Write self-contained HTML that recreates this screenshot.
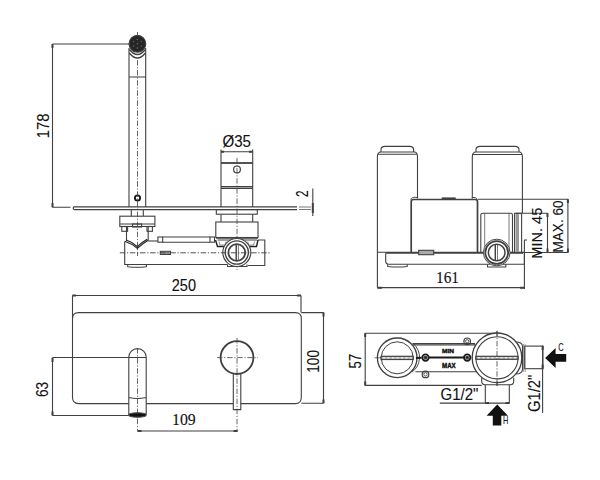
<!DOCTYPE html>
<html><head><meta charset="utf-8">
<style>
html,body{margin:0;padding:0;background:#fff;width:600px;height:480px;overflow:hidden}
svg{display:block}
text{font-family:"Liberation Sans",sans-serif;fill:#111;stroke:#111;stroke-width:0.12px}
.s{font-family:"Liberation Serif",serif}
</style></head><body>
<svg width="600" height="480" viewBox="0 0 600 480">
<g fill="none" stroke="#404040" stroke-width="1.1">
<!-- ===== TOP LEFT SIDE VIEW ===== -->
<!-- dim 178 -->
<path d="M52.5 44H129 M52.5 44V207.3 M52.5 207.3H70.5"/>
<path d="M52.5 44V48 M52.5 203V207.3" stroke-width="2"/>
<!-- spout -->
<path d="M129 48V207 M145.7 48V207 M129 77H145.7"/>
<circle cx="137.4" cy="43.8" r="8.4" fill="#262626"/>
<g fill="#666" stroke="none"><circle cx="137.4" cy="39.5" r="0.8"/><circle cx="137.4" cy="43.8" r="0.8"/><circle cx="137.4" cy="48" r="0.8"/><circle cx="133.5" cy="41.5" r="0.7"/><circle cx="141.3" cy="41.5" r="0.7"/><circle cx="133.5" cy="46" r="0.7"/><circle cx="141.3" cy="46" r="0.7"/></g>
<path d="M129.3 49.5Q137.5 59.5 145.4 49.5 M129.3 53Q137.5 63 145.4 53" stroke-width="1.3"/>
<circle cx="137.5" cy="198" r="2.6" stroke="#1a1a1a" stroke-width="1.9"/>
<path d="M137.5 32V36 M137.5 60V256" stroke-dasharray="5.5 1.7 1.2 1.7" stroke-width="0.8"/>
<!-- plate -->
<path d="M74 206.8H297 M74 209.6H297 M74 206.8Q72.5 208.2 74 209.6" stroke-width="1.2"/>
<path d="M299 207H311 M299 209.5H311" stroke-width="0.7"/>
<path d="M312.8 188.5V216"/>
<path d="M312.8 203V213" stroke-width="2"/>
<!-- handle -->
<path d="M221 151.7H224 M249 151.7H252.7" stroke-width="2"/>
<path d="M252.7 151.7H221 M221 149.5V207 M252.7 149.5V207 M221 186.6H252.7 M221 188.4H252.7"/>
<path d="M221 163H252.7" stroke-width="1.8"/>
<circle cx="237" cy="169.4" r="3.4" stroke-width="1.2"/>
<path d="M237 158V270" stroke-dasharray="5.5 1.7 1.2 1.7" stroke-width="0.8"/>
<!-- ring under plate -->
<rect x="216.3" y="209.6" width="41" height="4.6"/>
<path d="M221 214.2V222 M252.7 214.2V222"/>
<rect x="215.8" y="222" width="42.2" height="15.5"/>
<path d="M216 238H258" stroke-width="1.6"/>
<path d="M217.5 240H257" stroke-width="1"/>
<!-- spout neck + flange -->
<path d="M131.3 209.6V216.2 M143.3 209.6V216.2"/>
<rect x="119.8" y="216.2" width="35.1" height="10.3"/>
<path d="M119.8 224H154.9"/>
<rect x="121.8" y="226.5" width="5.8" height="4.8"/>
<rect x="147" y="226.5" width="5.4" height="4.8"/>
<rect x="132.5" y="224" width="9.1" height="3"/>
<path d="M126.5 226.5V241 M148.2 226.5V240.4"/>
<path d="M124.7 241.2Q132 243.5 137.3 248.4Q142.5 243.5 148.2 240.2 M126.2 240Q132.5 242 137.3 246.6Q142 242 147.2 239.2" stroke="#222" stroke-width="1.2"/>
<path d="M124.7 241.6V264.5H227.5 M127.7 264.5V266.7Q137 267.8 146.4 266.7V264.5"/>
<!-- pipe -->
<path d="M148.2 241H157.9"/>
<rect x="157.9" y="237" width="4.8" height="5.2"/>
<path d="M162.7 237H210 M162.7 242.2H210"/>
<rect x="210" y="237" width="4.5" height="5.2"/>
<rect x="160.3" y="251.3" width="10.2" height="3.2" fill="#999" stroke-width="1"/>
<!-- right body / circle -->
<path d="M258 240H264.8V265.5H248"/>
<path d="M227.5 264.5V266.5H247V264.5"/>
<path d="M215.5 240L217.5 246.5H226.5L229 242 M258 240L256.5 246.5H247.5L245 242" stroke="#222" stroke-width="1.4"/>
<path d="M219 241.5L220 245H225L226 241.5 M254.5 241.5L253.5 245H248.5L247.8 241.5" stroke-width="0.8" stroke="#777"/>
<circle cx="236.8" cy="252.5" r="14" stroke-width="1.1" fill="#fff"/>
<circle cx="236.8" cy="252.5" r="11.6" stroke-width="1.4"/>
<circle cx="236.8" cy="252.5" r="8.4" stroke-width="1.8"/>
<path d="M236.2 244.5V260.5" stroke-width="1.4"/>
<path d="M238.4 244.5V260.5" stroke-width="0.7"/>
<path d="M119.8 252.8H271" stroke-dasharray="5.5 1.7 1.2 1.7" stroke-width="0.9"/>

<!-- ===== TOP RIGHT VIEW ===== -->
<path d="M377.4 287.5V157 Q377.4 152 381 152H414.3Q417.5 152 417.5 157V198.5 M377.4 154.3H417.5"/>
<path d="M381 152V149.5Q381 146.4 385 146.4H409.6Q413.6 146.4 413.6 149.5V152"/>
<path d="M472.3 198.5V157 Q472.3 152 476 152H519Q522.4 152 522.4 157V213 M472.3 154.5H522.4"/>
<path d="M476 152V149.5Q476 146.4 480 146.4H515Q519 146.4 519 149.5V152"/>
<path d="M411.2 252.4V201.5Q411.2 199.5 413.5 199.5H475Q477.5 199.5 477.5 201.5V252" stroke-width="1.7"/>
<path d="M410.6 199.5Q412 196.5 417.5 197.5 M477.5 199.5Q476 196.5 471.8 197.5" stroke-width="0.9"/>
<path d="M377.4 252.2H525 M385.7 253.3H523"/>
<path d="M385.7 253.3V261Q385.7 264.3 389 264.3H524.4V252.5"/>
<path d="M387.7 264.3V266.5Q397.5 267.6 407.2 266.5V264.3"/>
<rect x="418.7" y="250.3" width="15" height="4.4" fill="#aaa"/>
<path d="M441.7 198.4H455.7" stroke-width="2"/>
<!-- cartridge boxes right -->
<path d="M480.8 252.5V215Q480.8 213.3 482.5 213.3H510.8Q512.5 213.3 512.5 215V252.5"/>
<path d="M484.7 213.3V250 M509 213.3V250" stroke-width="0.7"/>
<rect x="514.6" y="213.3" width="7" height="39.2"/>
<rect x="515.6" y="214" width="3.4" height="38" fill="#999" stroke="none"/>
<path d="M524.2 240H527"/>
<circle cx="496.7" cy="252.5" r="13.3" stroke-width="1" fill="#fff"/>
<circle cx="496.7" cy="252.5" r="11.4" stroke-width="1.8"/>
<circle cx="496.7" cy="252.5" r="8.3" stroke-width="1.5"/>
<path d="M495.3 244.5V260.5" stroke-width="1.4"/>
<path d="M497.5 244.5V260.5" stroke-width="0.7"/>
<path d="M487.5 264.3V267H505.8V264.3"/>
<!-- dims right -->
<path d="M478 199.3H568.3 M567.9 199.3V252.5 M523.3 252.5H568.3"/>
<path d="M515.8 213.3H547.5 M547.5 213.3V252.5"/>
<path d="M567.9 199.3V203 M567.9 248.5V252.5 M547.5 213.3V217 M547.5 248.5V252.5" stroke-width="2"/>
<path d="M524.4 240V289 M377.4 287.6H524.4"/>
<path d="M377.4 287.8H382 M520 287.8H524.6" stroke-width="2"/>

<!-- ===== BOTTOM LEFT FRONT VIEW ===== -->
<path d="M72.5 295.5H301 M72.5 295.5V398 M301 295.5V312.6"/>
<path d="M72.5 295.5H76 M297 295.5H301" stroke-width="2"/>
<path d="M72.5 318.6Q72.5 312.6 78.5 312.6H295.5Q301.3 312.6 301.3 318.6V397.5Q301.3 403.6 295.5 403.6H240.8 M233.3 403.6H146.2 M128.8 403.6H78.5Q72.5 403.6 72.5 397.6"/>
<path d="M301.3 312.6H323.5 M323.5 312.6V403.3 M301.3 403.3H323.5"/>
<path d="M323.5 312.6V316.5 M323.5 399.5V403.3" stroke-width="2"/>
<!-- spout front -->
<path d="M128.8 415V357.3 A8.7 8.7 0 0 1 146.2 357.3V415 M128.8 397.5Q137.5 399.5 146.2 397.5"/>
<ellipse cx="137.5" cy="415" rx="8.7" ry="2.2" fill="#111"/>
<path d="M52.5 357.5H146.2 M52.5 357.5V415.5 M52.5 415.5H128.8"/>
<path d="M52.5 358V362 M52.5 411.5V415.5" stroke-width="2"/>
<path d="M137.5 348V431" stroke-dasharray="5.5 1.7 1.2 1.7" stroke-width="0.8"/>
<!-- lever -->
<circle cx="237" cy="357.6" r="16.4" stroke-width="1.8"/>
<path d="M233.3 374V409.6H240.8V374"/>
<path d="M237 338V431" stroke-dasharray="5.5 1.7 1.2 1.7" stroke-width="0.8"/>
<path d="M217 357.6H258" stroke-dasharray="5.5 1.7 1.2 1.7" stroke-width="0.8"/>
<path d="M137.6 431H237.6"/>
<path d="M137.6 431H141.5 M233.5 431H237.6" stroke-width="2"/>

<!-- ===== BOTTOM RIGHT TOP VIEW ===== -->
<path d="M365.2 333.2H500 M365.2 333.2V385.4 M365.2 385.4H481.7"/>
<path d="M365.2 333.2V337 M365.2 381.5V385.4" stroke-width="2"/>
<path d="M374.6 357.8H381" stroke-width="0.8"/>
<circle cx="397.2" cy="357.8" r="19.8" stroke-width="1.3"/>
<circle cx="397.2" cy="357.8" r="16" stroke-width="1"/>
<path d="M413 343Q420 350 419.5 358Q419 367 412 372" stroke-width="0.9"/>
<rect x="381.1" y="356.3" width="32.1" height="3.2" fill="#bbb" stroke-width="1.2"/>
<path d="M383 357.9H411.5" stroke="#fff" stroke-width="1" stroke-dasharray="2 2.5"/>
<path d="M412.5 343.6H475 M412.5 345H475 M415.4 371.8H476"/>
<path d="M416 358L421.5 357.8 M429 357.5H463.8" stroke="#1a1a1a" stroke-width="2"/>
<circle cx="425.5" cy="357.6" r="3.2" stroke="#1a1a1a" stroke-width="1.9"/>
<circle cx="425.5" cy="357.6" r="1.4" fill="#1a1a1a"/>
<circle cx="467.2" cy="357.6" r="3.2" stroke="#1a1a1a" stroke-width="1.9"/>
<circle cx="467.2" cy="357.6" r="1.4" fill="#1a1a1a"/>
<circle cx="425.5" cy="374.4" r="3.3" stroke-width="1.2"/><circle cx="425.5" cy="374.4" r="1.7" stroke-width="0.9"/>
<circle cx="467.2" cy="341.3" r="3.3" stroke-width="1.2"/><circle cx="467.2" cy="341.3" r="1.7" stroke-width="0.9"/>
<circle cx="497" cy="357.8" r="24.8" stroke-width="1.3" fill="#fff"/>
<circle cx="497" cy="357.8" r="21.1" stroke-width="1.1"/>
<rect x="475.8" y="356.3" width="42.2" height="3" fill="#bbb" stroke-width="1.2"/>
<path d="M478 357.8H516" stroke="#fff" stroke-width="1" stroke-dasharray="2 2.5"/>
<path d="M497 330.8V386" stroke-dasharray="5.5 1.7 1.2 1.7" stroke-width="0.8"/>
<path d="M497 330.8V336 M497 380V386" stroke-width="0.8"/>
<path d="M516 342Q522 342 522.5 346V369.5Q522 374 516 374"/>
<rect x="524.6" y="346.1" width="18.3" height="22.6"/>
<path d="M523.5 344V372 M525.2 344V372" stroke-width="0.7" stroke="#777"/>
<path d="M481.7 377.5V381Q481.7 384.7 485 384.7H510.5Q513.7 384.7 513.7 381V377.5"/>
<path d="M485.3 384.7V403 M509.3 384.7V403 M439.8 403.1H509.8"/>
<path d="M485.3 403.1H489 M505.5 403.1H509.3" stroke-width="2"/>
<path d="M542.6 345.4V413"/>
<path d="M542.6 346V350 M542.6 364.5V368.7" stroke-width="2"/>
<!-- arrows -->
<path d="M545.1 358.1L555.6 347.9V354H566.2V361.8H555.6V368Z" fill="#111" stroke="none"/>
<path d="M497.2 404.5L508 415.8H501.3V425.4H492.8V415.8H486.6Z" fill="#111" stroke="none"/>
</g>

<!-- ===== TEXT ===== -->
<g>
<text x="0" y="0" font-size="16" transform="translate(48.5,138.2) rotate(-90)" textLength="24.8" lengthAdjust="spacingAndGlyphs">178</text>
<text x="222.5" y="147" font-size="16" textLength="28.5" lengthAdjust="spacingAndGlyphs">Ø35</text>
<text x="0" y="0" font-size="16" transform="translate(308.1,197.1) rotate(-90)" textLength="6.5" lengthAdjust="spacingAndGlyphs">2</text>
<text x="436" y="282.8" font-size="17" class="s" textLength="23" lengthAdjust="spacingAndGlyphs">161</text>
<text x="0" y="0" font-size="14.8" transform="translate(542.3,258.75) rotate(-90)" textLength="51" lengthAdjust="spacingAndGlyphs">MIN. 45</text>
<text x="0" y="0" font-size="14.8" transform="translate(563,252.5) rotate(-90)" textLength="52" lengthAdjust="spacingAndGlyphs">MAX. 60</text>
<text x="171.8" y="290.6" font-size="16.2" textLength="24.2" lengthAdjust="spacingAndGlyphs">250</text>
<text x="0" y="0" font-size="16" transform="translate(319.2,372.7) rotate(-90)" textLength="22.7" lengthAdjust="spacingAndGlyphs">100</text>
<text x="0" y="0" font-size="16" transform="translate(48.1,396.9) rotate(-90)" textLength="15" lengthAdjust="spacingAndGlyphs">63</text>
<text x="172" y="425.1" font-size="16.3" class="s" textLength="23.7" lengthAdjust="spacingAndGlyphs">109</text>
<text x="0" y="0" font-size="16" transform="translate(360.5,368.6) rotate(-90)" textLength="14.6" lengthAdjust="spacingAndGlyphs">57</text>
<text x="440.5" y="400.3" font-size="16" textLength="37.8" lengthAdjust="spacingAndGlyphs">G1/2"</text>
<text x="0" y="0" font-size="16" transform="translate(540,412) rotate(-90)" textLength="37.3" lengthAdjust="spacingAndGlyphs">G1/2"</text>
<text x="558.2" y="350.5" font-size="10.5" style="stroke-width:0.1px" textLength="5.4" lengthAdjust="spacingAndGlyphs">C</text>
<text x="503" y="423.7" font-size="10.3" style="stroke-width:0.1px" textLength="5.3" lengthAdjust="spacingAndGlyphs">H</text>
<text x="442" y="352.6" font-size="6.2" font-weight="bold" style="stroke-width:0.4px" textLength="12" lengthAdjust="spacingAndGlyphs">MIN</text>
<text x="442" y="368" font-size="6.4" font-weight="bold" style="stroke-width:0.4px" textLength="13.7" lengthAdjust="spacingAndGlyphs">MAX</text>
</g>
</svg>
</body></html>
